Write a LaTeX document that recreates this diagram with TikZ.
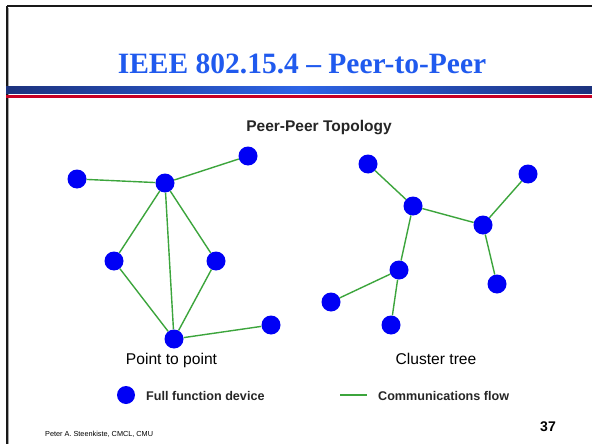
\documentclass[tikz,border=0pt]{standalone}
\usepackage{fontspec}
\setmainfont{Liberation Serif}
\setsansfont{Liberation Sans}
\definecolor{titleblue}{RGB}{32,90,238}
\definecolor{barnavy}{RGB}{28,50,125}
\definecolor{barbright}{RGB}{45,100,230}
\definecolor{barred}{RGB}{200,0,35}
\definecolor{flowgreen}{RGB}{60,165,60}
\definecolor{dotblue}{RGB}{0,0,245}
\tikzset{
  dev/.style={circle,fill=dotblue,inner sep=0pt,minimum size=19pt},
  flow/.style={draw=flowgreen,line width=1.4pt},
  lbl/.style={font=\sffamily\fontsize{15.6}{15.6}\selectfont,inner sep=0pt},
  leg/.style={font=\sffamily\bfseries\fontsize{12.6}{12.6}\selectfont,text=black!85,inner sep=0pt,anchor=west},
}
\begin{document}
\begin{tikzpicture}[x=1pt,y=-1pt]
\useasboundingbox (0,0) rectangle (592,444);
% frame
\fill[white] (0,0) rectangle (592,444);
\draw[line width=2.2pt,black!90] (7,6) -- (592,6);
\draw[line width=2.4pt,black!90] (7,6) -- (7,444);
\draw[line width=1pt,black!35] (8.8,8) -- (8.8,444);
% bars
\shade[left color=barnavy,right color=barnavy,middle color=barbright] (6,87) rectangle (592,93.5);
\fill[barred] (6,95.5) rectangle (592,98);
% title
\node[font=\bfseries\fontsize{29.5}{29.5}\selectfont,text=titleblue,anchor=base,inner sep=0pt] (title) at (302,73.5) {IEEE 802.15.4 – Peer-to-Peer};
\node[font=\sffamily\bfseries\fontsize{15.5}{15.5}\selectfont,text=black!85,anchor=base,inner sep=0pt] (topo) at (319,131) {Peer-Peer Topology};
% point to point
\node[dev] (a) at (77,179) {};
\node[dev] (b) at (165,183) {};
\node[dev] (c) at (248,156) {};
\node[dev] (d) at (114,261) {};
\node[dev] (e) at (216,261) {};
\node[dev] (f) at (174,339) {};
\node[dev] (g) at (271,325) {};
\draw[flow] (a) -- (b);
\draw[flow] (b) -- (c);
\draw[flow] (b) -- (d);
\draw[flow] (b) -- (e);
\draw[flow] (b) -- (f);
\draw[flow] (d) -- (f);
\draw[flow] (e) -- (f);
\draw[flow] (f) -- (g);
% cluster tree
\node[dev] (h) at (368,164) {};
\node[dev] (i) at (413,206) {};
\node[dev] (j) at (528,174) {};
\node[dev] (k) at (483,225) {};
\node[dev] (l) at (497,284) {};
\node[dev] (m) at (399,270) {};
\node[dev] (n) at (331,302) {};
\node[dev] (o) at (391,325) {};
\draw[flow] (h) -- (i);
\draw[flow] (i) -- (k);
\draw[flow] (k) -- (j);
\draw[flow] (k) -- (l);
\draw[flow] (i) -- (m);
\draw[flow] (m) -- (n);
\draw[flow] (m) -- (o);
% captions
\node[lbl,anchor=base] (ptp) at (171.5,364) {Point to point};
\node[lbl,anchor=base] (ct) at (436,364) {Cluster tree};
% legend
\node[dev,minimum size=18pt] (legdot) at (126,395) {};
\node[leg,anchor=base west] (legdev) at (146,400) {Full function device};
\coordinate (lf1) at (340,395);
\coordinate (lf2) at (367,395);
\draw[flow] (lf1) -- (lf2);
\node[leg,anchor=base west] (legflow) at (378,400) {Communications flow};
% footer
\node[font=\sffamily\fontsize{7.3}{7.3}\selectfont,anchor=base west,inner sep=0pt] (foot) at (45,436) {Peter A. Steenkiste, CMCL, CMU};
\node[font=\sffamily\bfseries\fontsize{14}{14}\selectfont,anchor=base,inner sep=0pt] (pg) at (548,431) {37};
\end{tikzpicture}
\end{document}
